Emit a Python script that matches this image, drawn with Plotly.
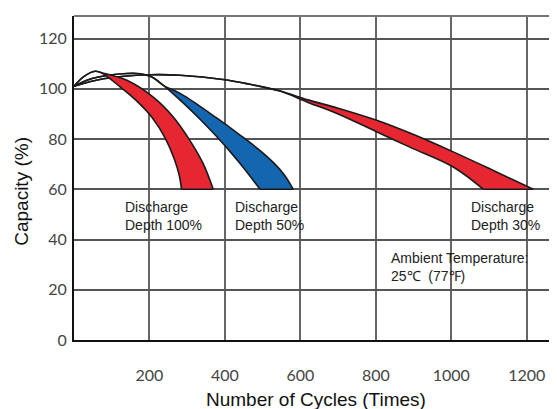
import plotly.graph_objects as go

# ---------------- data ----------------
x_ticks = [200, 400, 600, 800, 1000, 1200]
y_ticks = [0, 20, 40, 60, 80, 100, 120]

# Discharge depth 100 %
d100_prefix_x = [0, 25, 56, 73]
d100_prefix_y = [101, 104.8, 107, 106.4]
d100_left_x = [122, 166, 208, 242, 266, 279, 285]
d100_left_y = [100.8, 95.2, 88.4, 80.3, 72.0, 65.5, 60]
d100_right_x = [140, 210, 263, 307, 342, 369]
d100_right_y = [103.4, 96.7, 88.8, 79.5, 70.3, 60]

# Discharge depth 50 %
d50_prefix_x = [0, 40, 90, 140, 175, 205, 237]
d50_prefix_y = [101, 103.7, 105.4, 106.1, 106.0, 104.8, 101.4]
d50_left_x = [290, 334, 378, 420, 455, 480, 493]
d50_left_y = [94.3, 87.9, 81.0, 73.9, 67.5, 62.6, 60]
d50_right_x = [290, 378, 440, 490, 530, 558, 581]
d50_right_y = [97.4, 88.4, 81.6, 75.8, 70.4, 65.6, 60]

# Discharge depth 30 %
d30_prefix_x = [0, 78, 201, 281, 400, 466, 546]
d30_prefix_y = [101, 104, 105.6, 105.4, 103.6, 101.8, 99.1]
d30_upper_x = [620, 700, 806, 900, 1005, 1110, 1217]
d30_upper_y = [95.6, 92.3, 87.3, 81.8, 74.9, 67.6, 60]
d30_lower_x = [620, 700, 806, 890, 1005, 1085]
d30_lower_y = [94.6, 90.0, 82.6, 76.8, 68.9, 60]

RED = "#E62631"
BLUE = "#1466B0"

fig = go.Figure()


def band(px, py, ax, ay, bx, by, color):
    x1 = px + ax
    y1 = py + ay
    x2 = px + bx
    y2 = py + by
    fig.add_trace(go.Scatter(x=x1, y=y1, mode="lines",
                             line=dict(color="#1a1a1a", width=1.6, shape="spline"),
                             hoverinfo="skip", showlegend=False))
    fig.add_trace(go.Scatter(x=x2, y=y2, mode="lines", fill="tonexty", fillcolor=color,
                             line=dict(color="#1a1a1a", width=1.6, shape="spline"),
                             hoverinfo="skip", showlegend=False))
    fig.add_trace(go.Scatter(x=[x1[-1], x2[-1]], y=[y1[-1], y2[-1]], mode="lines",
                             line=dict(color="#1a1a1a", width=1.6),
                             hoverinfo="skip", showlegend=False))


band(d30_prefix_x, d30_prefix_y, d30_lower_x, d30_lower_y, d30_upper_x, d30_upper_y, RED)
band(d50_prefix_x, d50_prefix_y, d50_left_x, d50_left_y, d50_right_x, d50_right_y, BLUE)
band(d100_prefix_x, d100_prefix_y, d100_left_x, d100_left_y, d100_right_x, d100_right_y, RED)

TXT = dict(family="Liberation Sans, Arial, sans-serif", size=14, color="#222")
ann = [
    dict(x=130, y=49.2, text="Discharge<br>Depth 100%"),
    dict(x=421, y=49.2, text="Discharge<br>Depth 50%"),
    dict(x=1046, y=49.2, text="Discharge<br>Depth 30%"),
    dict(x=834, y=29.0, text="Ambient Temperature:<br>25℃  (77℉)"),
]
for a in ann:
    fig.add_annotation(x=a["x"], y=a["y"], text=a["text"], showarrow=False,
                       xanchor="left", yanchor="middle", align="left", font=TXT)

fig.add_annotation(x=0.5, y=-0.185, xref="paper", yref="paper", showarrow=False,
                   text="Number of Cycles (Times)", xanchor="center", yanchor="middle",
                   font=dict(family="Liberation Sans, Arial, sans-serif", size=19, color="#111"))
fig.add_annotation(x=-0.108, y=0.46, xref="paper", yref="paper", showarrow=False,
                   text="Capacity (%)", textangle=-90, xanchor="center", yanchor="middle",
                   font=dict(family="Liberation Sans, Arial, sans-serif", size=19, color="#111"))

fig.add_shape(type="line", xref="paper", yref="paper", x0=0, x1=1, y0=1, y1=1,
              line=dict(color="#777", width=2))

TICKF = dict(family="Lato, Noto Sans, sans-serif", size=16, color="#444")
fig.update_xaxes(range=[0, 1280], tickvals=x_ticks, showgrid=True, gridcolor="#666",
                 gridwidth=1.5, showline=True, linecolor="#111", linewidth=2,
                 zeroline=False, ticks="", tickfont=TICKF, ticklabelstandoff=20,
                 automargin=False)
fig.update_yaxes(range=[0, 129], tickvals=y_ticks, showgrid=True, gridcolor="#555",
                 gridwidth=1.5, showline=True, linecolor="#111", linewidth=2,
                 zeroline=False, ticks="", tickfont=TICKF, ticklabelstandoff=2,
                 automargin=False)

# page body adds an 8 px offset, so the figure is sized to fit the window
fig.update_layout(width=549, height=401, margin=dict(l=66, r=0, t=8, b=69),
                  plot_bgcolor="white", paper_bgcolor="white", showlegend=False)

fig.write_html("out.html")
